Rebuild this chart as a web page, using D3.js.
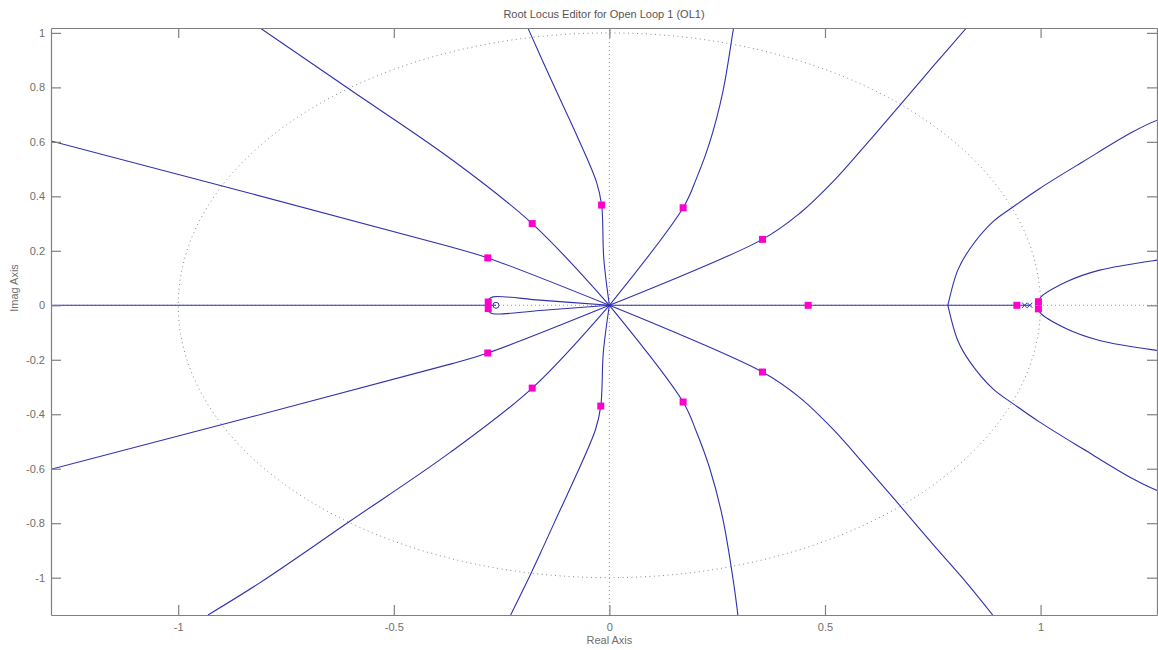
<!DOCTYPE html>
<html>
<head>
<meta charset="utf-8">
<script src="https://cdn.jsdelivr.net/npm/d3@7"></script>
<style>
  html, body { margin: 0; padding: 0; background: #fff; }
  svg { display: block; font-family: "Liberation Sans", Arial, sans-serif; }
</style>
</head>
<body>
<svg id="chart" width="1158" height="650"></svg>
<script>
// ---- axis ticks ----
const xTicks = [-1, -0.5, 0, 0.5, 1];
const xTickLabels = ["-1", "-0.5", "0", "0.5", "1"];
const yTicks = [-1, -0.8, -0.6, -0.4, -0.2, 0, 0.2, 0.4, 0.6, 0.8, 1];
const yTickLabels = ["-1", "-0.8", "-0.6", "-0.4", "-0.2", "0", "0.2", "0.4", "0.6", "0.8", "1"];

// ---- root locus branches (real, imag) ----
const branchA_up = [[0,0],[-0.282,0.174],[-0.369,0.215],[-1.295,0.603],[-1.35,0.626]];
const branchA_lo = [[0,0],[-0.282,-0.175],[-0.369,-0.216],[-1.295,-0.602],[-1.35,-0.625]];
const branchB_up = [[0,0],[-0.179,0.300],[-0.370,0.540],[-0.602,0.792],[-0.810,1.018],[-0.92,1.137]];
const branchB_lo = [[0,0],[-0.179,-0.304],[-0.370,-0.541],[-0.602,-0.793],[-0.810,-1.018],[-0.931,-1.137]];
const branchC_up = [[0,0],[-0.013,0.172],[-0.018,0.368],[-0.030,0.453],[-0.076,0.625],[-0.115,0.759],[-0.154,0.894],[-0.189,1.018],[-0.223,1.137]];
const branchC_lo = [[0,0],[-0.014,-0.172],[-0.020,-0.370],[-0.032,-0.455],[-0.078,-0.627],[-0.117,-0.761],[-0.156,-0.896],[-0.192,-1.018],[-0.229,-1.137]];
const branchD_up = [[0,0],[0.171,0.358],[0.202,0.466],[0.233,0.600],[0.263,0.783],[0.288,1.018],[0.301,1.137]];
const branchD_lo = [[0,0],[0.171,-0.355],[0.202,-0.465],[0.233,-0.600],[0.263,-0.783],[0.288,-1.018],[0.298,-1.137]];
const branchE_up = [[0,0],[0.355,0.242],[0.441,0.337],[0.518,0.453],[0.596,0.592],[0.673,0.733],[0.750,0.876],[0.828,1.018],[0.893,1.137]];
const branchE_lo = [[0,0],[0.355,-0.245],[0.441,-0.338],[0.518,-0.454],[0.596,-0.593],[0.673,-0.734],[0.750,-0.877],[0.828,-1.018],[0.889,-1.137]];
const loop_up = [[0,0],[-0.161,0.019],[-0.270,0.031],[-0.280,0.022],[-0.284,0.010],[-0.285,0]];
const loop_lo = [[0,0],[-0.161,-0.019],[-0.270,-0.031],[-0.280,-0.022],[-0.284,-0.010],[-0.285,0]];
const realLeft = [[-1.35,0],[-0.263,0]];
const realRight = [[0,0],[0.975,0]];
const breakaway_up = [[0.785,0],[0.808,0.129],[0.835,0.205],[0.889,0.306],[0.936,0.361],[0.998,0.429],[1.098,0.527],[1.214,0.637],[1.271,0.680],[1.32,0.70]];
const breakaway_lo = [[0.785,0],[0.808,-0.129],[0.835,-0.205],[0.889,-0.306],[0.936,-0.361],[0.998,-0.429],[1.098,-0.527],[1.214,-0.637],[1.271,-0.680],[1.32,-0.70]];
const nearOne_up = [[0.995,0],[0.998,0.025],[1.060,0.086],[1.137,0.129],[1.271,0.166],[1.32,0.175]];
const nearOne_lo = [[0.995,0],[0.998,-0.025],[1.060,-0.086],[1.137,-0.129],[1.271,-0.166],[1.32,-0.175]];

const branches = [branchA_up, branchA_lo, branchB_up, branchB_lo, branchC_up, branchC_lo,
  branchD_up, branchD_lo, branchE_up, branchE_lo, loop_up, loop_lo, realLeft, realRight,
  breakaway_up, breakaway_lo, nearOne_up, nearOne_lo];

// ---- closed-loop poles (magenta squares) ----
const clPolesRe = [-0.282,-0.179,-0.018,0.171,0.355,-0.282,-0.179,-0.020,0.171,0.355,0.461,0.945,0.995,0.995,-0.281,-0.281];
const clPolesIm = [0.174,0.300,0.368,0.358,0.242,-0.175,-0.304,-0.370,-0.355,-0.245,0,0,0.013,-0.013,0.012,-0.012];

// ---- open-loop poles / zeros ----
const olPoles = [[0.963,0],[0.975,0]];
const olZeros = [[-0.263,0]];

// ---- layout ----
const svg = d3.select("#chart");
const W = 1158, H = 650;
const margin = {left: 51, right: 1, top: 28, bottom: 35};
const x = d3.scaleLinear().domain([-1.295, 1.27]).range([margin.left, W - margin.right]);
const y = d3.scaleLinear().domain([-1.137, 1.018]).range([H - margin.bottom, margin.top]);

const axisColor = "#808080";
const textColor = "#6e6e6e";
const lineColor = "#3030b0";

svg.append("rect").attr("width", W).attr("height", H).attr("fill", "#fff");

svg.append("defs").append("clipPath").attr("id", "clip")
  .append("rect")
  .attr("x", x.range()[0]).attr("y", y.range()[1])
  .attr("width", x.range()[1] - x.range()[0])
  .attr("height", y.range()[0] - y.range()[1]);

const plot = svg.append("g").attr("clip-path", "url(#clip)");

// zero reference lines (dotted)
plot.append("line")
  .attr("x1", x.range()[0]).attr("x2", x.range()[1])
  .attr("y1", y(0)).attr("y2", y(0))
  .attr("stroke", "#9a9a9a").attr("stroke-width", 1).attr("stroke-dasharray", "1,3");
plot.append("line")
  .attr("x1", x(0)).attr("x2", x(0))
  .attr("y1", y.range()[0]).attr("y2", y.range()[1])
  .attr("stroke", "#9a9a9a").attr("stroke-width", 1).attr("stroke-dasharray", "1,3");

// unit circle (dotted)
const circlePts = d3.range(0, 361, 2).map(a => [Math.cos(a * Math.PI / 180), Math.sin(a * Math.PI / 180)]);
plot.append("path")
  .attr("d", d3.line().x(d => x(d[0])).y(d => y(d[1]))(circlePts))
  .attr("fill", "none").attr("stroke", "#8a8a8a").attr("stroke-width", 1)
  .attr("stroke-dasharray", "1,3.5");

// locus branches
const line = d3.line().x(d => x(d[0])).y(d => y(d[1])).curve(d3.curveMonotoneX);
const lineLin = d3.line().x(d => x(d[0])).y(d => y(d[1])).curve(d3.curveCatmullRom.alpha(0.5));
plot.selectAll("path.branch").data(branches).enter().append("path")
  .attr("class", "branch")
  .attr("d", d => lineLin(d))
  .attr("fill", "none").attr("stroke", lineColor).attr("stroke-width", 1.1);

// open-loop zeros
plot.selectAll("circle.zero").data(olZeros).enter().append("circle")
  .attr("cx", d => x(d[0])).attr("cy", d => y(d[1])).attr("r", 3)
  .attr("fill", "none").attr("stroke", lineColor).attr("stroke-width", 1);

// open-loop poles
const px = 2.5;
plot.selectAll("path.pole").data(olPoles).enter().append("path")
  .attr("d", d => `M${x(d[0]) - px},${y(d[1]) - px}L${x(d[0]) + px},${y(d[1]) + px}M${x(d[0]) - px},${y(d[1]) + px}L${x(d[0]) + px},${y(d[1]) - px}`)
  .attr("stroke", lineColor).attr("stroke-width", 1).attr("fill", "none");

// closed-loop poles
const s = 7;
plot.selectAll("rect.cl").data(clPolesRe.map((r, i) => [r, clPolesIm[i]])).enter().append("rect")
  .attr("x", d => x(d[0]) - s / 2).attr("y", d => y(d[1]) - s / 2)
  .attr("width", s).attr("height", s).attr("fill", "#ff00cc");

// ---- axes (box with inward ticks) ----
const tickLen = 10;
const gB = svg.append("g").attr("transform", `translate(0,${y.range()[0]})`)
  .call(d3.axisBottom(x).tickValues(xTicks).tickSizeInner(-tickLen).tickSizeOuter(0).tickPadding(8)
    .tickFormat((d, i) => xTickLabels[i]));
const gT = svg.append("g").attr("transform", `translate(0,${y.range()[1]})`)
  .call(d3.axisTop(x).tickValues(xTicks).tickSizeInner(-tickLen).tickSizeOuter(0).tickFormat(""));
const gL = svg.append("g").attr("transform", `translate(${x.range()[0]},0)`)
  .call(d3.axisLeft(y).tickValues(yTicks).tickSizeInner(-tickLen).tickSizeOuter(0).tickPadding(6)
    .tickFormat((d, i) => yTickLabels[i]));
const gR = svg.append("g").attr("transform", `translate(${x.range()[1]},0)`)
  .call(d3.axisRight(y).tickValues(yTicks).tickSizeInner(-tickLen).tickSizeOuter(0).tickFormat(""));

[gB, gT, gL, gR].forEach(g => {
  g.select(".domain").attr("stroke", axisColor).attr("stroke-width", 1.2);
  g.selectAll(".tick line").attr("stroke", axisColor).attr("stroke-width", 1.2);
  g.selectAll(".tick text").attr("fill", textColor).attr("font-size", 11)
    .attr("font-family", "'Liberation Sans', Arial, sans-serif");
});

// ---- titles ----
svg.append("text")
  .attr("x", (x.range()[0] + x.range()[1]) / 2).attr("y", 18)
  .attr("text-anchor", "middle").attr("font-size", 11).attr("fill", "#555")
  .text("Root Locus Editor for Open Loop 1 (OL1)");
svg.append("text")
  .attr("x", x(0)).attr("y", 644)
  .attr("text-anchor", "middle").attr("font-size", 11).attr("fill", textColor)
  .text("Real Axis");
svg.append("text")
  .attr("transform", `translate(18,${288}) rotate(-90)`)
  .attr("text-anchor", "middle").attr("font-size", 11).attr("fill", textColor)
  .text("Imag Axis");
</script>
</body>
</html>
